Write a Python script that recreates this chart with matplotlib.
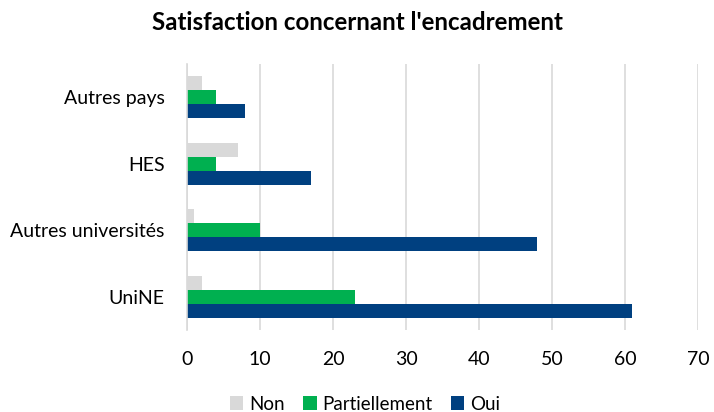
import numpy as np
import matplotlib
matplotlib.use("Agg")
import matplotlib.pyplot as plt

plt.rcParams['font.family'] = ['Lato', 'DejaVu Sans']

categories = ['UniNE', 'Autres universités', 'HES', 'Autres pays']
non = [2, 1, 7, 2]
partiellement = [23, 10, 4, 4]
oui = [61, 48, 17, 8]

c_non = '#d9d9d9'
c_part = '#00b050'
c_oui = '#004080'

fig = plt.figure(figsize=(7.14, 4.12), dpi=100)
ax = fig.add_axes([187/714, 1 - 330/412, (698-187)/714, (330-64)/412])

y = np.arange(len(categories))
h = 0.21
ax.barh(y + h, non, height=h, color=c_non, label='Non')
ax.barh(y, partiellement, height=h, color=c_part, label='Partiellement')
ax.barh(y - h, oui, height=h, color=c_oui, label='Oui')

ax.set_xlim(0, 70)
ax.set_ylim(-0.5, 3.5)
ax.set_xticks(range(0, 71, 10))
ax.set_yticks(y)
ax.set_yticklabels(categories)
ax.tick_params(axis='both', length=0, labelsize=14, colors='#000000')
ax.tick_params(axis='x', pad=15)
ax.tick_params(axis='y', pad=16)
ax.xaxis.grid(True, color='#d9d9d9', linewidth=1.2)
ax.set_axisbelow(True)
for s in ['top', 'right', 'bottom']:
    ax.spines[s].set_visible(False)
ax.spines['left'].set_color('#d9d9d9')
ax.spines['left'].set_linewidth(1.2)

fig.text(0.5, 1 - 22/412, "Satisfaction concernant l'encadrement", ha='center',
         va='center', fontsize=17.4, fontweight='bold')

fig.legend(loc='center', bbox_to_anchor=(365/714, 1 - 404/412), ncol=3, frameon=False,
           fontsize=13.5, handlelength=0.7, handleheight=0.7, handletextpad=0.3,
           columnspacing=1.0)

fig.savefig('out.png', dpi=100)
